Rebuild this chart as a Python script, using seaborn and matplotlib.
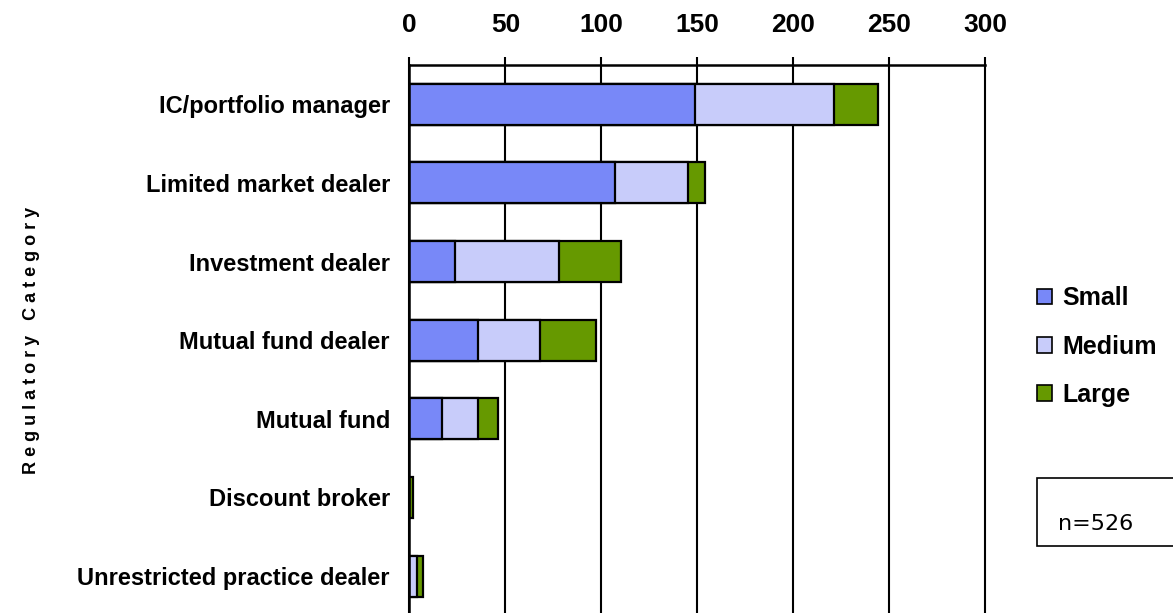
import numpy as np
import pandas as pd
import seaborn as sns
from matplotlib import pyplot as plt
from matplotlib.patches import Rectangle, Patch
from matplotlib.ticker import FixedLocator

categories = ["IC/portfolio manager", "Limited market dealer", "Investment dealer",
              "Mutual fund dealer", "Mutual fund", "Discount broker",
              "Unrestricted practice dealer"]
small = [149, 107, 24, 36, 17, 0, 0]
medium = [72, 38, 54, 32, 19, 0, 4]
large = [23, 9, 32, 29, 10, 2, 3]
sizes = ["Small", "Medium", "Large"]
colors = {"Small": "#7888F8", "Medium": "#C8CCFA", "Large": "#669900"}
x_ticks = [0, 50, 100, 150, 200, 250, 300]

sns.set_style("white")
plt.rcParams['font.family'] = ['Liberation Sans', 'DejaVu Sans']
plt.rcParams['text.color'] = 'black'
plt.rcParams['xtick.color'] = 'black'
plt.rcParams['ytick.color'] = 'black'

df = pd.DataFrame({"category": categories, "Small": small, "Medium": medium, "Large": large})
# cumulative ends so the bars can be stacked by overdrawing
df["to_small"] = df["Small"]
df["to_medium"] = df["Small"] + df["Medium"]
df["to_large"] = df["to_medium"] + df["Large"]

fig = plt.figure(figsize=(11.73, 6.13), dpi=100)
ax = fig.add_axes([0.349, -0.004, 0.491, 0.898])

for col, name in [("to_large", "Large"), ("to_medium", "Medium"), ("to_small", "Small")]:
    sns.barplot(data=df, x=col, y="category", order=categories, color=colors[name],
                width=0.52, edgecolor="black", linewidth=1.6, saturation=1, ax=ax)

ax.set_xlim(0, 300)
ax.set_ylim(len(categories) - 0.5, -0.5)
ax.set_xticks(x_ticks)
ax.xaxis.tick_top()
ax.tick_params(axis="x", direction="out", length=6, width=1.5,
               labelsize=19, pad=14)
for lbl in ax.get_xticklabels():
    lbl.set_fontweight("bold")
ax.tick_params(axis="y", which="major", length=0, labelsize=17, pad=14)
for lbl in ax.get_yticklabels():
    lbl.set_fontweight("bold")
ax.yaxis.set_minor_locator(FixedLocator(np.arange(0.5, len(categories) - 0.5, 1)))
ax.tick_params(axis="y", which="minor", direction="in", length=7, width=1.5)

ax.grid(axis="x", color="black", linewidth=1.5)
for gl in ax.get_xgridlines():
    gl.set_clip_on(False)
ax.set_axisbelow(True)
for s in ["right", "bottom"]:
    ax.spines[s].set_visible(False)
for s in ["top", "left"]:
    ax.spines[s].set_color("black")
    ax.spines[s].set_linewidth(1.8)

ax.set_xlabel("")
ax.set_ylabel("")
fig.text(0.027, 0.445, "R e g u l a t o r y   C a t e g o r y", rotation=90,
         ha="center", va="center", fontsize=13, fontweight="bold")

handles = [Patch(facecolor=colors[s], edgecolor="black", linewidth=1.2) for s in sizes]
leg = fig.legend(handles, sizes, loc="upper left", bbox_to_anchor=(0.884, 0.533),
                 frameon=False, fontsize=18, handlelength=0.6, handleheight=0.6,
                 handletextpad=0.4, labelspacing=0.97, borderpad=0, borderaxespad=0)
for t in leg.get_texts():
    t.set_fontweight("bold")

fig.patches.append(Rectangle((0.884, 0.109), 0.14, 0.111, transform=fig.transFigure,
                             facecolor="white", edgecolor="black", linewidth=1.2))
fig.text(0.902, 0.146, "n=526", fontsize=16, fontfamily="DejaVu Sans", va="center")

fig.savefig("out.png", dpi=100)
